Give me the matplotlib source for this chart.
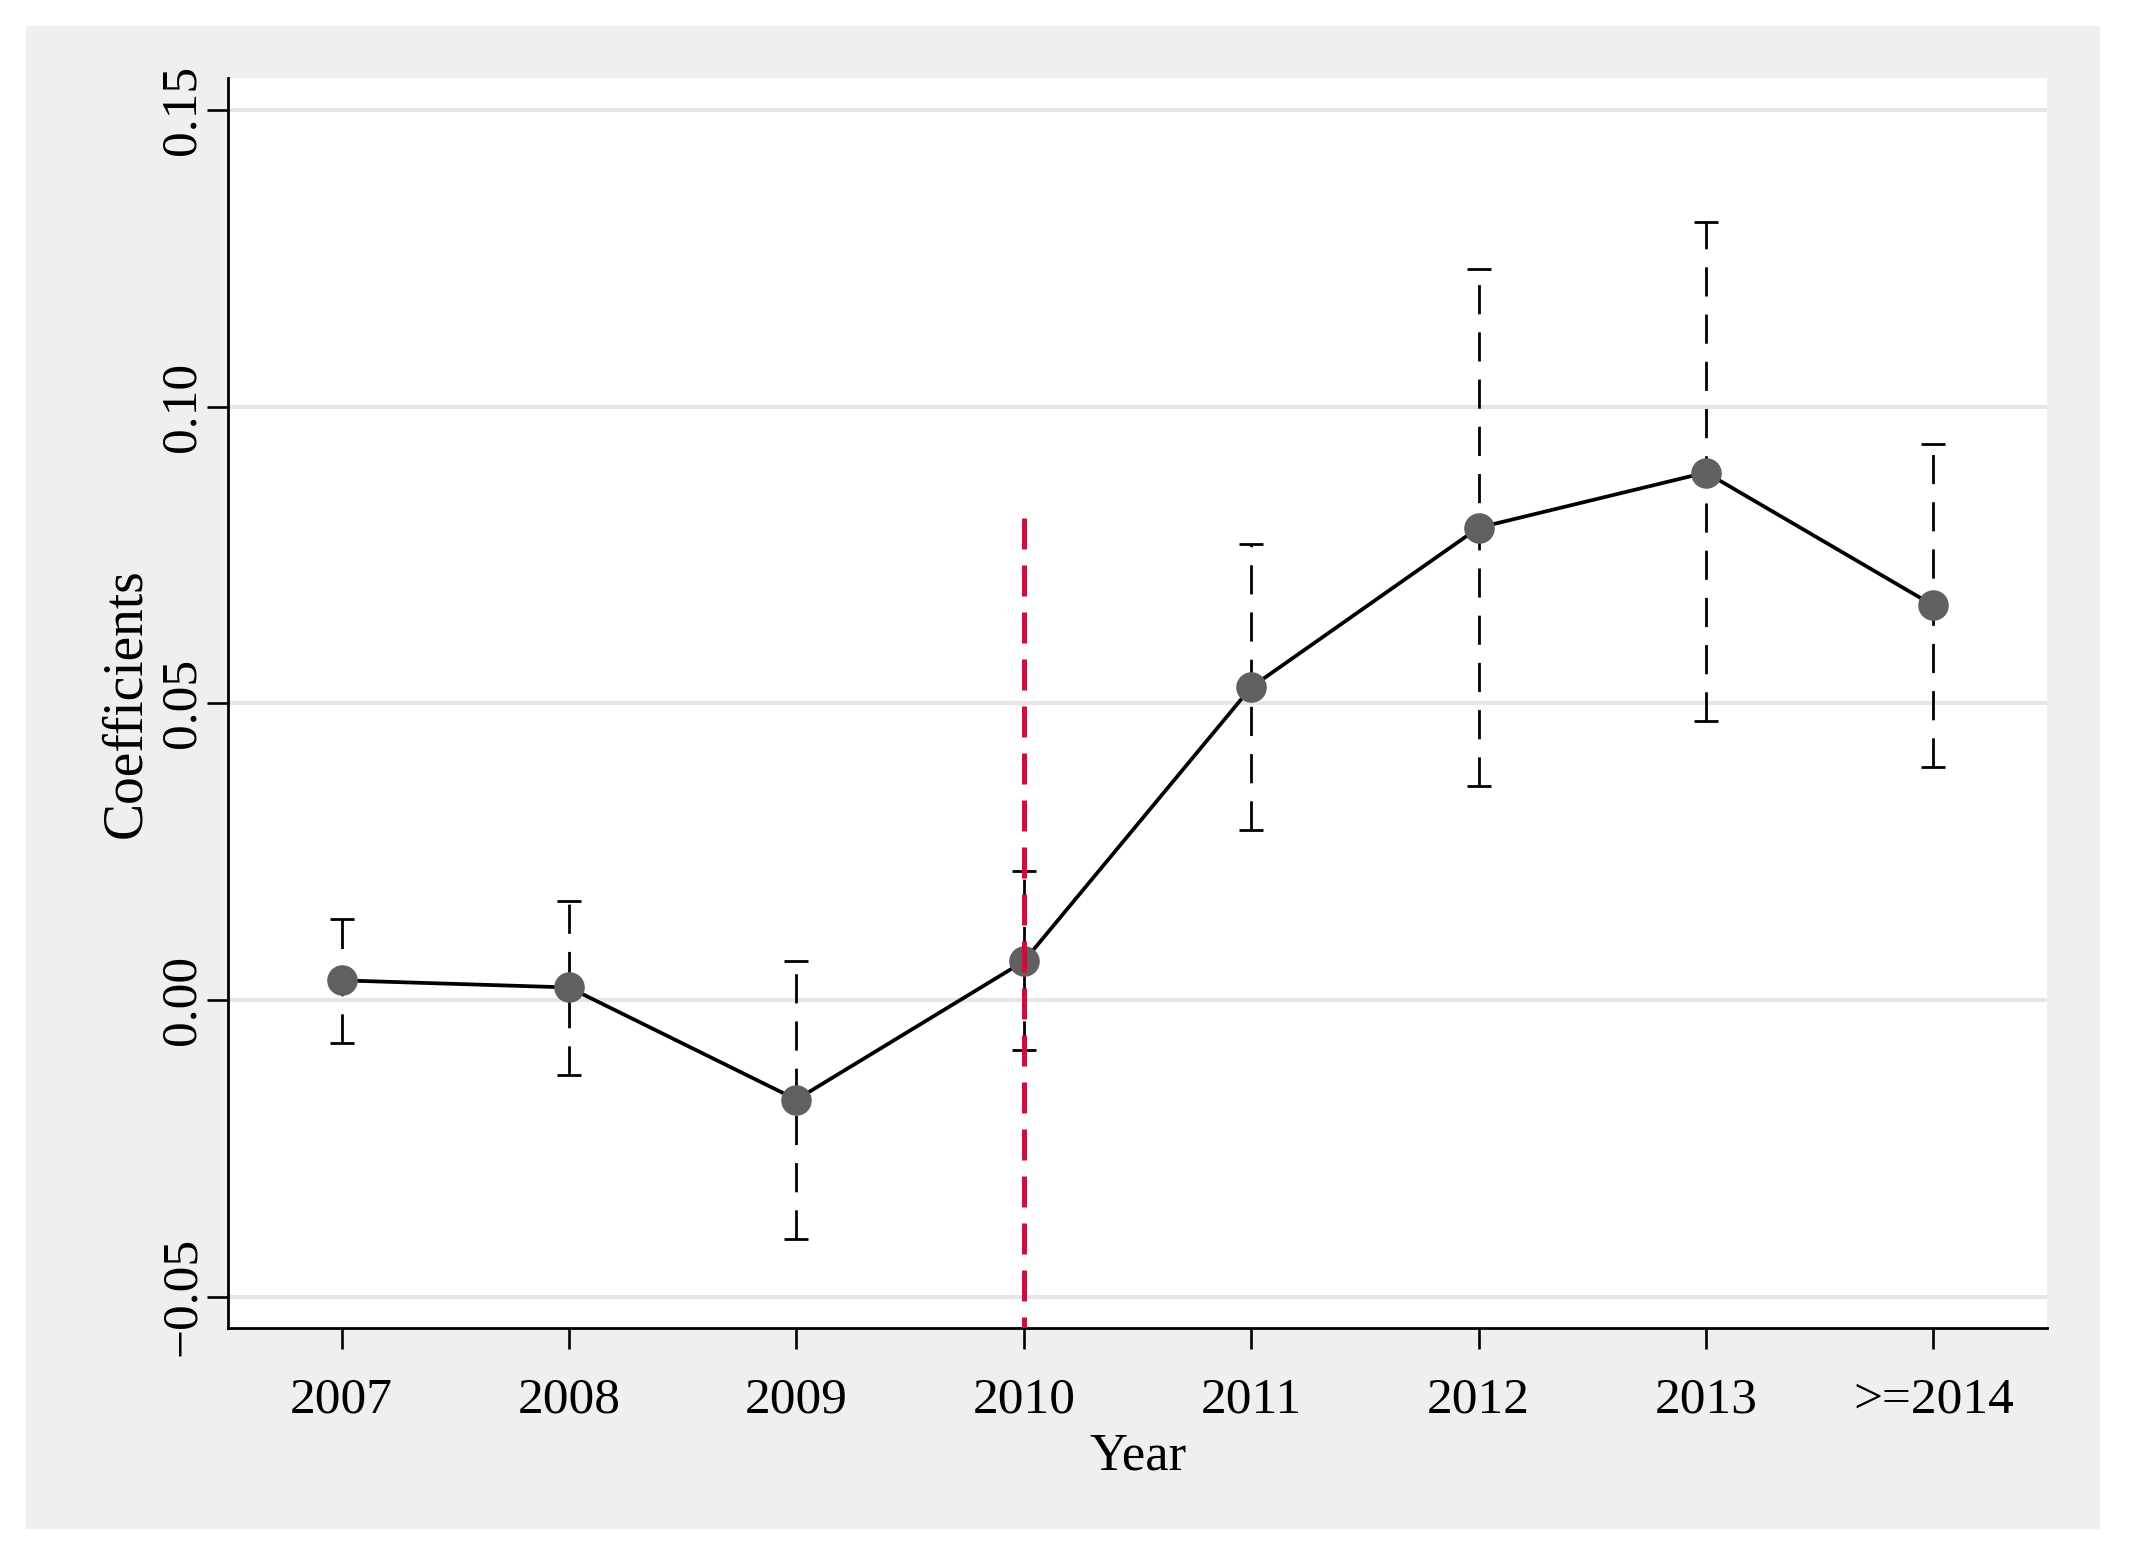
import matplotlib
matplotlib.use('Agg')
import matplotlib.pyplot as plt
from matplotlib.patches import Rectangle

# ---- data ----
categories = ["2007", "2008", "2009", "2010", "2011", "2012", "2013", ">=2014"]
coef = [0.0033, 0.0021, -0.0168, 0.0065, 0.0527, 0.0796, 0.0889, 0.0665]
ci_low = [-0.0073, -0.0126, -0.0403, -0.0085, 0.0287, 0.0360, 0.0471, 0.0393]
ci_high = [0.0137, 0.0167, 0.0065, 0.0217, 0.0769, 0.1232, 0.1311, 0.0937]
ytick_values = [-0.05, 0.00, 0.05, 0.10, 0.15]
ytick_labels = ["\u22120.05", "0.00", "0.05", "0.10", "0.15"]
event_category = "2010"
event_line_top = 0.0813

plt.rcParams['font.family'] = ['Liberation Serif', 'DejaVu Serif']

W, H = 2143, 1562
fig = plt.figure(figsize=(W / 100, H / 100), dpi=100)
fig.patch.set_facecolor('white')
fig.patches.append(Rectangle((26 / W, (H - 1529) / H), (2100 - 26) / W, (1529 - 26) / H,
                             transform=fig.transFigure, facecolor='#efefef',
                             edgecolor='none', zorder=-10))

ax = fig.add_axes([228 / W, (H - 1328) / H, (2047 - 228) / W, (1328 - 78) / H])
ax.set_facecolor('white')

ylim = (-0.0553, 0.1554)
x = list(range(len(categories)))

# confidence intervals (dashed) with caps
ax.vlines(x, ci_low, ci_high, colors='black', linewidth=2.0,
          linestyles=[(0, (10.5, 6.5))], zorder=2)
ax.plot(x, ci_high, ls='none', marker='_', ms=17, mew=2.0, color='black', zorder=2)
ax.plot(x, ci_low, ls='none', marker='_', ms=17, mew=2.0, color='black', zorder=2)

# coefficient line + markers
ax.plot(x, coef, color='black', lw=2.7, zorder=3)
ax.plot(x, coef, ls='none', marker='o', ms=21, color='#606060', mec='#606060', zorder=4)

# event line
xi = categories.index(event_category)
ax.plot([xi, xi], [event_line_top, ylim[0]], color='#c8103c', lw=3.6,
        ls=(0, (6.2, 3.2)), zorder=5, solid_capstyle='butt', dash_capstyle='butt')

ax.set_xlim(-0.5, len(categories) - 0.5)
ax.set_ylim(*ylim)
ax.set_xticks(x)
ax.set_xticklabels(categories, fontsize=37)
ax.set_yticks(ytick_values)
ax.set_yticklabels(ytick_labels, fontsize=37, rotation=90, va='center')

ax.yaxis.grid(True, color='#e6e6e6', lw=2.9)
ax.xaxis.grid(False)
ax.set_axisbelow(True)

for s in ['top', 'right']:
    ax.spines[s].set_visible(False)
for s in ['left', 'bottom']:
    ax.spines[s].set_linewidth(2.0)
    ax.spines[s].set_color('black')

ax.tick_params(axis='both', direction='out', length=15, width=1.9, color='black')
ax.tick_params(axis='x', pad=20)
ax.tick_params(axis='y', pad=1)

ax.set_xlabel('Year', fontsize=38, labelpad=7)
ax.set_ylabel('Coefficients', fontsize=40, labelpad=5)

fig.savefig('out.png', dpi=100, facecolor='white')
